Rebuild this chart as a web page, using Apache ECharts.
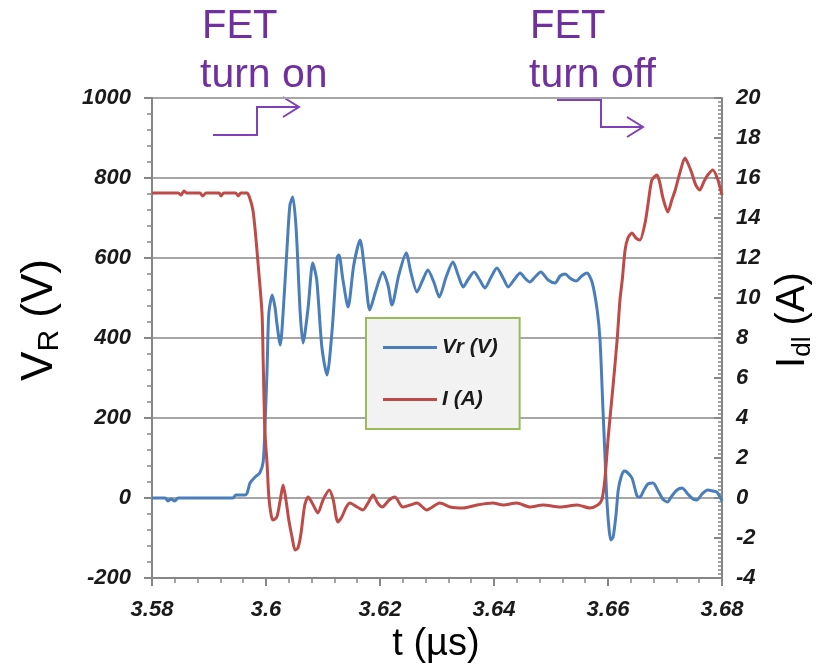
<!DOCTYPE html>
<html lang="en">
    <head>
        <meta charset="UTF-8">
        <title>FET switching</title>
        <script src="https://cdn.jsdelivr.net/npm/echarts@6/dist/echarts.min.js"></script>
        <style type="text/css">
            body { margin: 0; background: #fff; }
            #main { width: 826px; height: 665px; }
        </style>
    </head>
    <body>
        <div id="main"></div>
    </body>

    <script type="text/javascript">
        // 时间 (us) 和 电压 Vr (V)
        var tVr = [3.5800, 3.5823, 3.5828, 3.5833, 3.5840, 3.5846, 3.5942, 3.5947, 3.5963, 3.5967,
                   3.5972, 3.5981, 3.5989, 3.5995, 3.5998, 3.6002, 3.6005, 3.6011, 3.6016, 3.6019,
                   3.6025, 3.6030, 3.6037, 3.6042, 3.6047, 3.6053, 3.6060, 3.6065, 3.6074, 3.6082,
                   3.6089, 3.6098, 3.6107, 3.6116, 3.6125, 3.6128, 3.6135, 3.6144, 3.6154, 3.6165,
                   3.6174, 3.6182, 3.6193, 3.6205, 3.6214, 3.6221, 3.6233, 3.6246, 3.6254, 3.6265,
                   3.6275, 3.6284, 3.6295, 3.6304, 3.6316, 3.6328, 3.6337, 3.6346, 3.6354, 3.6365,
                   3.6375, 3.6384, 3.6395, 3.6405, 3.6416, 3.6425, 3.6435, 3.6446, 3.6454, 3.6463,
                   3.6472, 3.6482, 3.6495, 3.6507, 3.6516, 3.6525, 3.6533, 3.6544, 3.6554, 3.6563,
                   3.6572, 3.6581, 3.6586, 3.6591, 3.6595, 3.6598, 3.6602, 3.6605, 3.6609, 3.6614,
                   3.6618, 3.6623, 3.6628, 3.6633, 3.6642, 3.6651, 3.6656, 3.6663, 3.6670, 3.6679,
                   3.6688, 3.6696, 3.6704, 3.6712, 3.6721, 3.6730, 3.6740, 3.6749, 3.6756, 3.6765,
                   3.6775, 3.6784, 3.6791, 3.6800];
        var vr = [0, 0, -7.5, -2.5, -7.5, 0, 0, 7.5, 7.5, 12.5,
                  37.5, 52.5, 62.5, 90, 170, 327.5, 462.5, 507.5, 475, 437.5,
                  382.5, 462.5, 627.5, 732.5, 752.5, 670, 462.5, 387.5, 477.5, 587.5,
                  545, 377.5, 307.5, 420, 602.5, 607.5, 545, 477.5, 582.5, 645,
                  557.5, 470, 520, 565, 532.5, 482.5, 557.5, 612.5, 565, 515,
                  545, 570, 537.5, 502.5, 552.5, 590, 557.5, 527.5, 545, 565,
                  545, 525, 552.5, 575, 550, 527.5, 545, 562.5, 550, 540,
                  552.5, 565, 545, 537.5, 555, 560, 550, 542.5, 555, 562.5,
                  540, 470, 395, 227.5, 95, -5, -80, -105, -97.5, -42.5,
                  20, 52.5, 67.5, 65, 50, 5, 2.5, 20, 35, 37.5,
                  17.5, -2.5, -10, 5, 20, 25, 10, -2.5, -5, 10,
                  20, 17.5, 15, -7.5];

        // 时间 (us) 和 电流 I (A)
        var tI = [3.5800, 3.5846, 3.5851, 3.5856, 3.5861, 3.5884, 3.5889, 3.5895, 3.5918, 3.5921,
                  3.5926, 3.5947, 3.5951, 3.5956, 3.5967, 3.5972, 3.5977, 3.5981, 3.5986, 3.5993,
                  3.5995, 3.5998, 3.6002, 3.6005, 3.6009, 3.6012, 3.6019, 3.6025, 3.6030, 3.6035,
                  3.6040, 3.6046, 3.6051, 3.6056, 3.6061, 3.6068, 3.6074, 3.6081, 3.6091, 3.6100,
                  3.6111, 3.6118, 3.6126, 3.6133, 3.6140, 3.6147, 3.6160, 3.6170, 3.6179, 3.6188,
                  3.6196, 3.6204, 3.6216, 3.6226, 3.6240, 3.6253, 3.6265, 3.6282, 3.6305, 3.6323,
                  3.6346, 3.6370, 3.6398, 3.6416, 3.6440, 3.6463, 3.6486, 3.6516, 3.6546, 3.6568,
                  3.6582, 3.6589, 3.6593, 3.6596, 3.6600, 3.6604, 3.6609, 3.6616, 3.6621, 3.6625,
                  3.6630, 3.6635, 3.6642, 3.6649, 3.6656, 3.6665, 3.6670, 3.6677, 3.6686, 3.6691,
                  3.6696, 3.6705, 3.6712, 3.6718, 3.6726, 3.6735, 3.6740, 3.6747, 3.6754, 3.6761,
                  3.6768, 3.6775, 3.6784, 3.6793, 3.6800];
        var cur = [15.25, 15.25, 15.15, 15.35, 15.25, 15.25, 15.1, 15.25, 15.25, 15.1,
                   15.25, 15.25, 15.1, 15.25, 15.25, 14.95, 14.4, 13.4, 11.75, 9.25,
                   6.9, 3.4, 1.65, 0.05, -0.85, -1.1, -0.95, -0.1, 0.65, -0.1,
                   -1.1, -2.0, -2.6, -2.5, -1.85, -0.35, 0.05, -0.25, -0.75, -0.1,
                   0.4, -0.1, -1.2, -0.95, -0.5, -0.25, -0.45, -0.6, -0.25, 0.15,
                   -0.25, -0.45, -0.1, 0.05, -0.45, -0.35, -0.25, -0.6, -0.25, -0.45,
                   -0.5, -0.35, -0.25, -0.35, -0.25, -0.45, -0.35, -0.45, -0.35, -0.5,
                   -0.35, -0.1, 0.55, 1.4, 2.9, 4.15, 5.65, 7.9, 9.9, 10.9,
                   12.4, 13.0, 13.25, 13.0, 12.9, 13.75, 14.65, 15.9, 16.15, 15.75,
                   15.05, 14.3, 14.9, 15.4, 16.25, 17.0, 16.75, 16.25, 15.65, 15.4,
                   15.8, 16.15, 16.4, 15.9, 15.15];

        var xTicks = [3.58, 3.68, 0.02];   // min, max, interval
        var vTicks = [-200, 1000, 200];
        var iTicks = [-4, 20, 2];

        var purple = '#7030a0';
        var labelFont = {fontFamily: 'Liberation Sans', fontWeight: 'bold', fontStyle: 'italic', fontSize: 22, color: '#1a1a1a'};

        function zip(a, b) {
            var out = [];
            for (var i = 0; i < a.length; i++) {
                out.push([a[i], b[i]]);
            }
            return out;
        }

        var myChart = echarts.init(document.getElementById('main'));
        myChart.setOption({
            animation: false,
            backgroundColor: '#ffffff',
            grid: {left: 152, right: 104, top: 98, bottom: 87},
            legend: {
                orient: 'vertical',
                left: 366,
                top: 318,
                data: ['Vr (V)', 'I (A)'],
                icon: 'rect',
                backgroundColor: '#f2f2f2',
                borderColor: '#9bbb59',
                borderWidth: 2,
                borderRadius: 0,
                padding: [19, 22, 19, 17],
                itemWidth: 54,
                itemHeight: 3,
                itemGap: 31,
                textStyle: {fontFamily: 'Liberation Sans', fontWeight: 'bold', fontStyle: 'italic', fontSize: 21, color: '#1a1a1a'}
            },
            xAxis: {
                type: 'value',
                min: xTicks[0],
                max: xTicks[1],
                interval: xTicks[2],
                axisLine: {onZero: false, lineStyle: {color: '#868686', width: 2}},
                axisTick: {length: 8, lineStyle: {color: '#868686', width: 2}},
                minorTick: {show: true, splitNumber: 5, length: 5, lineStyle: {color: '#868686', width: 1.5}},
                splitLine: {show: false},
                axisLabel: Object.assign({margin: 21, formatter: function (v) { return String(+v.toFixed(2)); }}, labelFont)
            },
            yAxis: [{
                type: 'value',
                min: vTicks[0],
                max: vTicks[1],
                interval: vTicks[2],
                axisLine: {show: true, lineStyle: {color: '#868686', width: 2}},
                axisTick: {show: true, length: 8, lineStyle: {color: '#868686', width: 2}},
                minorTick: {show: true, splitNumber: 5, length: 5, lineStyle: {color: '#868686', width: 1.5}},
                splitLine: {show: true, lineStyle: {color: '#a6a6a6', width: 2}},
                axisLabel: Object.assign({margin: 21, formatter: function (v) { return String(v); }}, labelFont)
            }, {
                type: 'value',
                position: 'right',
                min: iTicks[0],
                max: iTicks[1],
                interval: iTicks[2],
                axisLine: {show: true, lineStyle: {color: '#868686', width: 2}},
                axisTick: {show: true, inside: true, length: 8, lineStyle: {color: '#868686', width: 2}},
                minorTick: {show: true, splitNumber: 10, length: 4, lineStyle: {color: '#868686', width: 1.5}},
                splitLine: {show: false},
                axisLabel: Object.assign({margin: 14}, labelFont)
            }],
            series: [{
                name: 'Vr (V)',
                type: 'line',
                yAxisIndex: 0,
                symbol: 'none',
                smooth: 0.25,
                color: '#4a7ebb',
                lineStyle: {width: 3, color: '#4a7ebb'},
                data: zip(tVr, vr)
            }, {
                name: 'I (A)',
                type: 'line',
                yAxisIndex: 1,
                symbol: 'none',
                smooth: 0.25,
                color: '#be4b48',
                lineStyle: {width: 3, color: '#be4b48'},
                data: zip(tI, cur)
            }],
            graphic: [
                // 轴标题
                {type: 'text', x: 40, y: 320, rotation: Math.PI / 2, style: {
                    text: '{a|V}{b|R}{a| (V)}', align: 'center', verticalAlign: 'middle',
                    rich: {a: {fontFamily: 'Liberation Sans', fontSize: 44, lineHeight: 50, fill: '#000'},
                           b: {fontFamily: 'Liberation Sans', fontSize: 30, lineHeight: 30, verticalAlign: 'bottom', fill: '#000'}}
                }},
                {type: 'text', x: 793, y: 320, rotation: Math.PI / 2, style: {
                    text: '{a|I}{b|dl}{a| (A)}', align: 'center', verticalAlign: 'middle',
                    rich: {a: {fontFamily: 'Liberation Sans', fontSize: 40, lineHeight: 46, fill: '#000'},
                           b: {fontFamily: 'Liberation Sans', fontSize: 26, lineHeight: 26, verticalAlign: 'bottom', fill: '#000'}}
                }},
                {type: 'text', x: 436, y: 645, style: {
                    text: 't (\u00b5s)', align: 'center', verticalAlign: 'middle',
                    font: '38px "Liberation Sans"', fill: '#000'
                }},
                // FET 标注
                {type: 'text', x: 202, y: 27, style: {text: 'FET', verticalAlign: 'middle', font: '40px "Liberation Sans"', fill: purple}},
                {type: 'text', x: 200, y: 76, style: {text: 'turn on', verticalAlign: 'middle', font: '41px "Liberation Sans"', fill: purple}},
                {type: 'text', x: 530, y: 27, style: {text: 'FET', verticalAlign: 'middle', font: '40px "Liberation Sans"', fill: purple}},
                {type: 'text', x: 529, y: 76, style: {text: 'turn off', verticalAlign: 'middle', font: '41px "Liberation Sans"', fill: purple}},
                {type: 'polyline', shape: {points: [[213, 135], [257, 135], [257, 107], [299, 107]]}, style: {stroke: '#7f40b8', lineWidth: 2, fill: null}},
                {type: 'polyline', shape: {points: [[283, 97], [299, 107], [283, 117]]}, style: {stroke: '#7f40b8', lineWidth: 2, fill: null}},
                {type: 'polyline', shape: {points: [[557, 100], [601, 100], [601, 127], [643, 127]]}, style: {stroke: '#7f40b8', lineWidth: 2, fill: null}},
                {type: 'polyline', shape: {points: [[627, 117], [643, 127], [627, 137]]}, style: {stroke: '#7f40b8', lineWidth: 2, fill: null}}
            ]
        });
    </script>
</html>
